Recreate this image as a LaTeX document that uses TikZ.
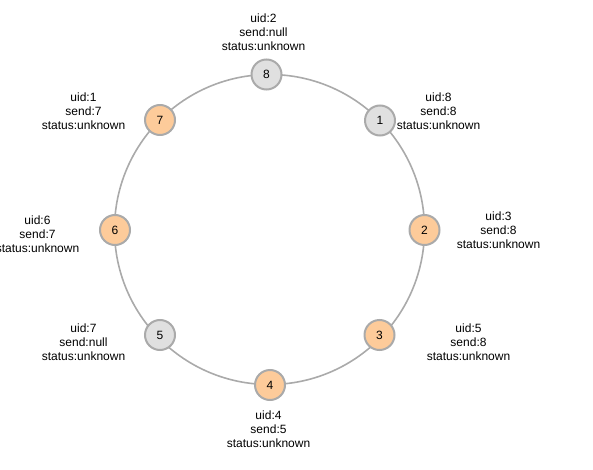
\documentclass[tikz,border=0pt]{standalone}
\usepackage{fontspec}
\setmainfont{Liberation Sans}
\usepackage{tikz}
\usetikzlibrary{positioning}
\definecolor{ringgray}{HTML}{AAAAAA}
\definecolor{idlefill}{HTML}{E0E0E0}
\definecolor{activefill}{HTML}{FDCB9A}

\begin{document}
\begin{tikzpicture}[x=1pt, y=-1pt,
    proc/.style={circle, draw=ringgray, line width=2pt, minimum size=30pt, inner sep=0pt, font=\fontsize{12}{14}\selectfont},
    idle/.style={proc, fill=idlefill},
    active/.style={proc, fill=activefill},
    info/.style={align=center, inner sep=0pt, font=\fontsize{12}{14}\selectfont},
    ring/.style={draw=ringgray, line width=1.6pt}
]
\useasboundingbox (0,0) rectangle (593,470);

% Ring
\node[ring, circle, minimum size=310pt, inner sep=0pt] (ringc) at (269.5,229.5) {};

% Processes
\node[idle] (p8) at (266.5,74.5) {8};
\node[idle] (p1) at (380,120.5) {1};
\node[active] (p2) at (424.5,230) {2};
\node[active] (p3) at (379.5,335) {3};
\node[active] (p4) at (270,385) {4};
\node[idle] (p5) at (160,335) {5};
\node[active] (p6) at (115,230) {6};
\node[active] (p7) at (160,120) {7};

% State labels
\node[info] (s8) at (263.5,32.5) {uid:2\\send:null\\status:unknown};
\node[info] (s1) at (438.5,111.5) {uid:8\\send:8\\status:unknown};
\node[info] (s2) at (498.5,230.5) {uid:3\\send:8\\status:unknown};
\node[info] (s3) at (468.5,342.5) {uid:5\\send:8\\status:unknown};
\node[info] (s4) at (268.5,429.5) {uid:4\\send:5\\status:unknown};
\node[info] (s5) at (83.5,342.5) {uid:7\\send:null\\status:unknown};
\node[info] (s6) at (37.5,234.5) {uid:6\\send:7\\status:unknown};
\node[info] (s7) at (83.5,111.5) {uid:1\\send:7\\status:unknown};

\end{tikzpicture}
\end{document}
